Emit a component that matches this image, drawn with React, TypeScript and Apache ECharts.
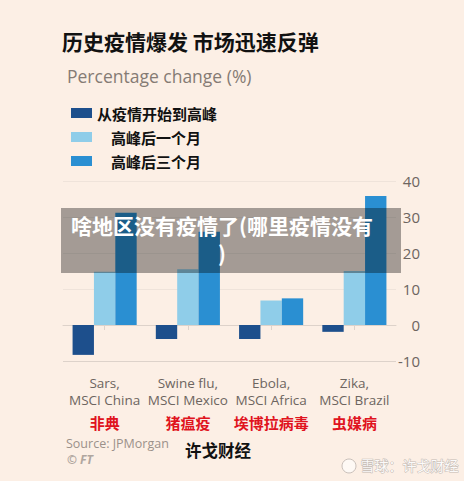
import React, { useEffect, useRef } from "react";
import * as echarts from "echarts";

const categories = [
  "Sars,\nMSCI China",
  "Swine flu,\nMSCI Mexico",
  "Ebola,\nMSCI Africa",
  "Zika,\nMSCI Brazil",
];
const cnLabels = ["非典", "猪瘟疫", "埃博拉病毒", "虫媒病"];
const seriesNames = ["从疫情开始到高峰", "高峰后一个月", "高峰后三个月"];
const startToPeak = [-8.3, -3.9, -3.9, -1.9];
const oneMonthAfter = [14.8, 15.5, 6.8, 15.0];
const threeMonthsAfter = [31.2, 25.9, 7.4, 35.8];
const yTicks = { min: -10, max: 40, interval: 10 };

const colors = ["#1d4f8c", "#8fcde9", "#2a8fd2"];
const bg = "#fcefe5";
const FONT = "'Open Sans', 'Noto Sans CJK SC', sans-serif";
const CJK = "'Noto Sans CJK SC', sans-serif";

export default function App() {
  const ref = useRef<HTMLDivElement>(null);
  useEffect(() => {
    if (!ref.current) return;
    const chart = echarts.init(ref.current, null, { renderer: "svg" });
    const values = [startToPeak, oneMonthAfter, threeMonthsAfter];
    chart.setOption({
      animation: false,
      backgroundColor: bg,
      grid: { left: 63, right: 68, top: 181, bottom: 120 },
      legend: {
        orient: "vertical",
        left: 66,
        top: 96,
        itemWidth: 21,
        itemHeight: 10,
        itemGap: 0,
        icon: "rect",
        data: seriesNames,
        formatter: (name: string) =>
          name === seriesNames[0] ? `{a|${name}}` : `{b|${name}}`,
        textStyle: {
          fontFamily: CJK,
          fontSize: 15,
          fontWeight: "bold",
          color: "#111",
          lineHeight: 24,
          rich: {
            a: {
              fontFamily: CJK,
              fontSize: 15,
              fontWeight: "bold",
              color: "#111",
              lineHeight: 24,
              padding: [0, 0, 0, 0],
            },
            b: {
              fontFamily: CJK,
              fontSize: 15,
              fontWeight: "bold",
              color: "#111",
              lineHeight: 24,
              padding: [0, 0, 0, 14],
            },
          },
        },
      },
      xAxis: {
        type: "category",
        data: categories,
        axisLine: { show: true, lineStyle: { color: "#ddd2ca", width: 1 } },
        axisTick: { show: true, alignWithLabel: true, length: 5, lineStyle: { color: "#ddd2ca" } },
        axisLabel: {
          interval: 0,
          margin: 13,
          fontFamily: FONT,
          fontSize: 13.5,
          color: "#6d6560",
          lineHeight: 17,
          formatter: (v: string, i: number) => `${v}\n{r|${cnLabels[i]}}`,
          rich: {
            r: {
              fontFamily: CJK,
              fontSize: 15,
              fontWeight: "bold",
              color: "#e0141e",
              lineHeight: 29,
            },
          },
        },
      },
      yAxis: {
        type: "value",
        position: "right",
        min: yTicks.min,
        max: yTicks.max,
        interval: yTicks.interval,
        axisLine: { show: false },
        axisTick: { show: false },
        axisLabel: {
          margin: 24,
          align: "right",
          fontFamily: FONT,
          fontSize: 15,
          color: "#6d6560",
        },
        splitLine: {
          lineStyle: {
            color: ["#ddd2ca", "#d3c8c0", "#efe3da", "#efe3da", "#efe3da", "#efe3da"],
            width: 1,
          },
        },
      },
      series: seriesNames.map((name, i) => ({
        name,
        type: "bar",
        data: values[i],
        barCategoryGap: "23%",
        barGap: "0%",
        itemStyle: { color: colors[i] },
      })),
      graphic: [
        {
          type: "text",
          left: 62,
          top: 30,
          style: {
            text: "历史疫情爆发 市场迅速反弹",
            fontFamily: CJK,
            fontSize: 21,
            fontWeight: "bold",
            fill: "#111",
          },
        },
        {
          type: "text",
          left: 67,
          top: 67,
          style: {
            text: "Percentage change (%)",
            fontFamily: FONT,
            fontSize: 17.5,
            fill: "#857b74",
          },
        },
        {
          type: "text",
          left: 66,
          top: 437,
          style: {
            text: "Source: JPMorgan",
            fontFamily: FONT,
            fontSize: 12.5,
            fill: "#9b918a",
          },
        },
        {
          type: "text",
          left: 67,
          top: 453,
          style: {
            text: "© FT",
            fontFamily: FONT,
            fontSize: 12,
            fontStyle: "italic",
            fontWeight: "bold",
            fill: "#b0a69f",
          },
        },
        {
          type: "text",
          left: 185,
          top: 442,
          style: {
            text: "许戈财经",
            fontFamily: CJK,
            fontSize: 16.5,
            fontWeight: "bold",
            fill: "#111",
          },
        },
        {
          type: "circle",
          shape: { cx: 349, cy: 466, r: 7 },
          style: { fill: "rgba(255,255,255,0.6)", stroke: "#c9c0ba", lineWidth: 1 },
        },
        {
          type: "text",
          left: 360,
          top: 457,
          style: {
            text: "雪球：许戈财经",
            fontFamily: CJK,
            fontSize: 14,
            fill: "rgba(255,255,255,0.95)",
            stroke: "#c4bab3",
            lineWidth: 1,
          },
        },
        {
          type: "rect",
          z: 100,
          shape: { x: 61, y: 208, width: 340, height: 65 },
          style: { fill: "rgba(0,0,0,0.35)" },
        },
        {
          type: "text",
          z: 101,
          x: 222,
          y: 211,
          style: {
            text: "啥地区没有疫情了(哪里疫情没有\n)",
            fontFamily: CJK,
            fontSize: 21,
            fontWeight: "bold",
            fill: "#fff",
            align: "center",
            lineHeight: 28,
          },
        },
      ],
    });
    return () => chart.dispose();
  }, []);
  return (
    <div
      ref={ref}
      style={{ position: "fixed", left: 0, top: 0, width: 464, height: 481, background: bg }}
    />
  );
}
